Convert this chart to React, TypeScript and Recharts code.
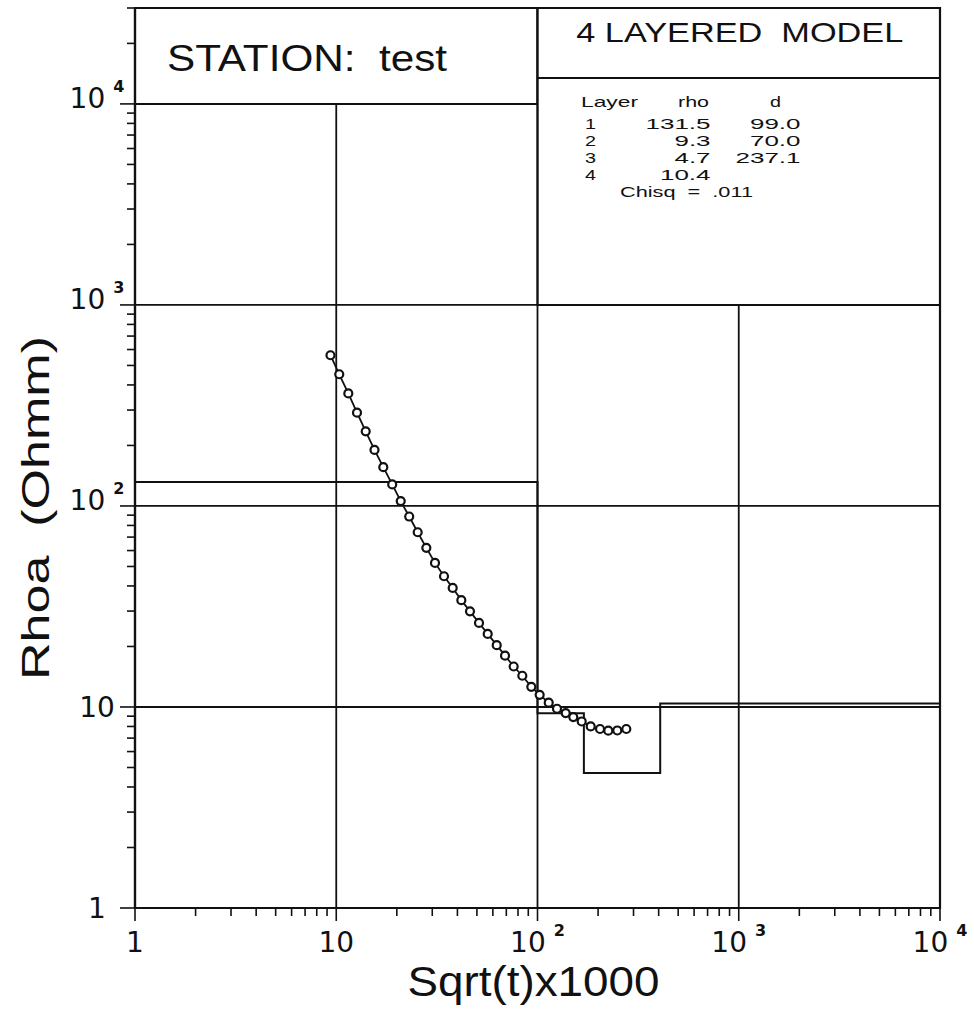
import { ComposedChart, Line, XAxis, YAxis, ReferenceLine, ReferenceArea } from "recharts";

const FONT = "'Liberation Sans', Arial, sans-serif";
const WIDE = "'DejaVu Sans', sans-serif";
const INK = "#111";
const NB = "\u00a0";

// observed sounding: sqrt(t)*1000 against apparent resistivity
const sqrtT = [
  9.36, 10.35, 11.48, 12.68, 14.01, 15.49, 17.13, 18.97, 20.91, 23.04, 25.39, 28.03,
  30.95, 34.31, 37.9, 41.83, 46.19, 51.21, 56.56, 62.71, 68.96, 76.14, 84.05, 93.16,
  102.5, 113.7, 125.0, 138.1, 150.6, 165.8, 183.8, 204.5, 224.8, 249.2, 276.2,
];
const rhoa = [
  562, 452, 363, 291, 235, 190, 156, 128, 105.7, 88.6, 74.0, 61.9, 52.1, 44.7, 39.1,
  34.0, 29.9, 26.2, 23.1, 20.3, 18.0, 15.9, 14.3, 12.6, 11.5, 10.5, 9.8, 9.33, 8.91,
  8.47, 8.0, 7.77, 7.62, 7.64, 7.77,
];

// fitted layered model
const layerNo = [1, 2, 3, 4];
const layerRho = [131.5, 9.3, 4.7, 10.4];
const layerD = [99.0, 70.0, 237.1];
const chisq = ".011";
const station = "test";

// axes
const X_MIN = 1;
const X_MAX = 10000;
const Y_MIN = 1;
const Y_MAX = 30000;
const majorTicks = [1, 10, 100, 1000, 10000];
const majorBase = ["1", "10", "10", "10", "10"];
const majorExp = ["", "", "2", "3", "4"];

const minorTicks = (max: number) => {
  const out: number[] = [];
  for (let dec = 1; dec < max; dec *= 10) {
    for (let m = 1; m < 10; m++) {
      const v = m * dec;
      if (v <= max) out.push(v);
    }
  }
  if (!out.includes(10000) && max >= 10000) out.push(10000);
  return out;
};

const obsData = sqrtT.map((x, i) => ({ x, y: rhoa[i] }));

const bounds = layerD.reduce((acc, d) => [...acc, acc[acc.length - 1] + d], [X_MIN] as number[]);
const modelData = [
  ...layerRho.map((r, i) => ({ x: bounds[i], y: r })),
  { x: X_MAX, y: layerRho[layerRho.length - 1] },
];

const TickText = ({ x, y, i }: { x: number; y: number; i: number }) => (
  <text x={x} y={y} textAnchor="middle" fontSize={28} fontFamily={WIDE} fill={INK}>
    {majorBase[i]}
    {majorExp[i] && (
      <tspan fontSize={16} fontWeight="bold" dx={8} dy={-16}>
        {majorExp[i]}
      </tspan>
    )}
  </text>
);

const XTick = (props: any) => {
  const { x, y, payload } = props;
  const i = majorTicks.indexOf(payload.value);
  const major = i >= 0;
  return (
    <g>
      <line x1={x} y1={y} x2={x} y2={y + (major ? 13 : 8)} stroke={INK} strokeWidth={1.6} />
      {major && <TickText x={x} y={y + 44} i={i} />}
    </g>
  );
};

const YTick = (props: any) => {
  const { x, y, payload } = props;
  const i = majorTicks.indexOf(payload.value);
  const major = i >= 0;
  return (
    <g>
      <line x1={x} y1={y} x2={x - (major ? 15 : 8)} y2={y} stroke={INK} strokeWidth={1.6} />
      {major && <TickText x={x - 38} y={y + (majorExp[i] ? 4 : 10)} i={i} />}
    </g>
  );
};

const XTitle = (props: any) => {
  const { x, y, width } = props.viewBox;
  return (
    <text x={x + width / 2 - 4} y={y + 88} textAnchor="middle" fontSize={42} fontFamily={FONT} fill={INK} textLength={252} lengthAdjust="spacingAndGlyphs">
      Sqrt(t)x1000
    </text>
  );
};

const YTitle = (props: any) => {
  const { y, height } = props.viewBox;
  const cx = 49;
  const cy = y + height / 2 + 50;
  return (
    <text x={cx} y={cy} transform={`rotate(-90 ${cx} ${cy})`} textAnchor="middle" fontSize={39} fontFamily={FONT} fill={INK} textLength={344} lengthAdjust="spacingAndGlyphs">
      {`Rhoa${NB}${NB}(Ohmm)`}
    </text>
  );
};

const StationLabel = (props: any) => {
  const { x, y } = props.viewBox;
  return (
    <text x={x + 32} y={y + 63} fontSize={37} fontFamily={FONT} fill={INK} textLength={280} lengthAdjust="spacingAndGlyphs">
      {`STATION:${NB}${NB}${station}`}
    </text>
  );
};

// the plotter's table font is wide: give each number cell its printed width
const cellWidth = (s: string) => [...s].reduce((w, c) => w + (c === "." ? 7 : 14.5), 0);

const Cell = ({ x, y, anchor, text, width }: { x: number; y: number; anchor: string; text: string; width?: number }) => (
  <text
    x={x}
    y={y}
    textAnchor={anchor}
    fontSize={15}
    fontFamily={FONT}
    fill={INK}
    textLength={width ?? cellWidth(text)}
    lengthAdjust="spacingAndGlyphs"
  >
    {text}
  </text>
);

const ModelLabel = (props: any) => {
  const { x, y, width } = props.viewBox;
  const cx = x + width / 2;
  const row0 = y + 121;
  const rowH = 17;
  return (
    <g>
      <text x={cx + 1} y={y + 34} textAnchor="middle" fontSize={28} fontFamily={FONT} fill={INK} textLength={327} lengthAdjust="spacingAndGlyphs">
        {`${layerRho.length}${NB}LAYERED${NB}${NB}MODEL`}
      </text>
      <line x1={x} y1={y + 70} x2={x + width} y2={y + 70} stroke={INK} strokeWidth={2} />
      <Cell x={x + 72} y={y + 99} anchor="middle" text="Layer" width={57} />
      <Cell x={x + 156} y={y + 99} anchor="middle" text="rho" width={31} />
      <Cell x={x + 238} y={y + 99} anchor="middle" text="d" width={11} />
      {layerNo.map((n, i) => (
        <g key={n}>
          <Cell x={x + 53} y={row0 + i * rowH} anchor="middle" text={String(n)} width={11} />
          <Cell x={x + 173} y={row0 + i * rowH} anchor="end" text={layerRho[i].toFixed(1)} />
          {i < layerD.length && (
            <Cell x={x + 263} y={row0 + i * rowH} anchor="end" text={layerD[i].toFixed(1)} />
          )}
        </g>
      ))}
      <Cell x={x + 149} y={row0 + 4 * rowH} anchor="middle" text={`Chisq${NB}${NB}=${NB}${NB}${chisq}`} width={133} />
    </g>
  );
};

export default function App() {
  return (
    <div style={{ position: "absolute", left: 0, top: 0, width: 974, height: 1017, background: "#fff" }}>
      <ComposedChart width={974} height={1017} margin={{ top: 8, right: 34, bottom: 0, left: 0 }}>
        <XAxis
          dataKey="x"
          type="number"
          scale="log"
          domain={[X_MIN, X_MAX]}
          allowDataOverflow
          ticks={minorTicks(X_MAX)}
          interval={0}
          tick={<XTick />}
          tickLine={false}
          tickSize={0}
          tickMargin={0}
          axisLine={{ stroke: INK, strokeWidth: 2.2 }}
          height={109}
          label={XTitle}
        />
        <YAxis
          dataKey="y"
          type="number"
          scale="log"
          domain={[Y_MIN, Y_MAX]}
          allowDataOverflow
          ticks={minorTicks(Y_MAX)}
          interval={0}
          tick={<YTick />}
          tickLine={false}
          tickSize={0}
          tickMargin={0}
          axisLine={{ stroke: INK, strokeWidth: 2.2 }}
          width={135}
          label={YTitle}
        />

        {/* decade grid, drawn only where the boxes do not cover it */}
        <ReferenceLine segment={[{ x: X_MIN, y: 10 }, { x: X_MAX, y: 10 }]} stroke={INK} strokeWidth={1.8} />
        <ReferenceLine segment={[{ x: X_MIN, y: 100 }, { x: X_MAX, y: 100 }]} stroke={INK} strokeWidth={1.8} />
        <ReferenceLine segment={[{ x: X_MIN, y: 1000 }, { x: X_MAX, y: 1000 }]} stroke={INK} strokeWidth={1.8} />
        <ReferenceLine segment={[{ x: 10, y: Y_MIN }, { x: 10, y: 10000 }]} stroke={INK} strokeWidth={1.8} />
        <ReferenceLine segment={[{ x: 100, y: Y_MIN }, { x: 100, y: Y_MAX }]} stroke={INK} strokeWidth={1.8} />
        <ReferenceLine segment={[{ x: 1000, y: Y_MIN }, { x: 1000, y: 1000 }]} stroke={INK} strokeWidth={1.8} />

        <ReferenceArea x1={X_MIN} x2={100} y1={10000} y2={Y_MAX} fill="#fff" fillOpacity={1} stroke={INK} strokeWidth={2} label={StationLabel} />
        <ReferenceArea x1={100} x2={X_MAX} y1={1000} y2={Y_MAX} fill="#fff" fillOpacity={1} stroke={INK} strokeWidth={2} label={ModelLabel} />
        <ReferenceArea x1={X_MIN} x2={X_MAX} y1={Y_MIN} y2={Y_MAX} fill="none" stroke={INK} strokeWidth={2.2} />

        <Line
          data={modelData}
          dataKey="y"
          type="stepAfter"
          stroke={INK}
          strokeWidth={2}
          dot={false}
          isAnimationActive={false}
        />
        <Line
          data={obsData}
          dataKey="y"
          type="linear"
          stroke={INK}
          strokeWidth={1.8}
          dot={{ r: 4, fill: "#fff", stroke: INK, strokeWidth: 2.2 }}
          isAnimationActive={false}
        />
      </ComposedChart>
    </div>
  );
}
